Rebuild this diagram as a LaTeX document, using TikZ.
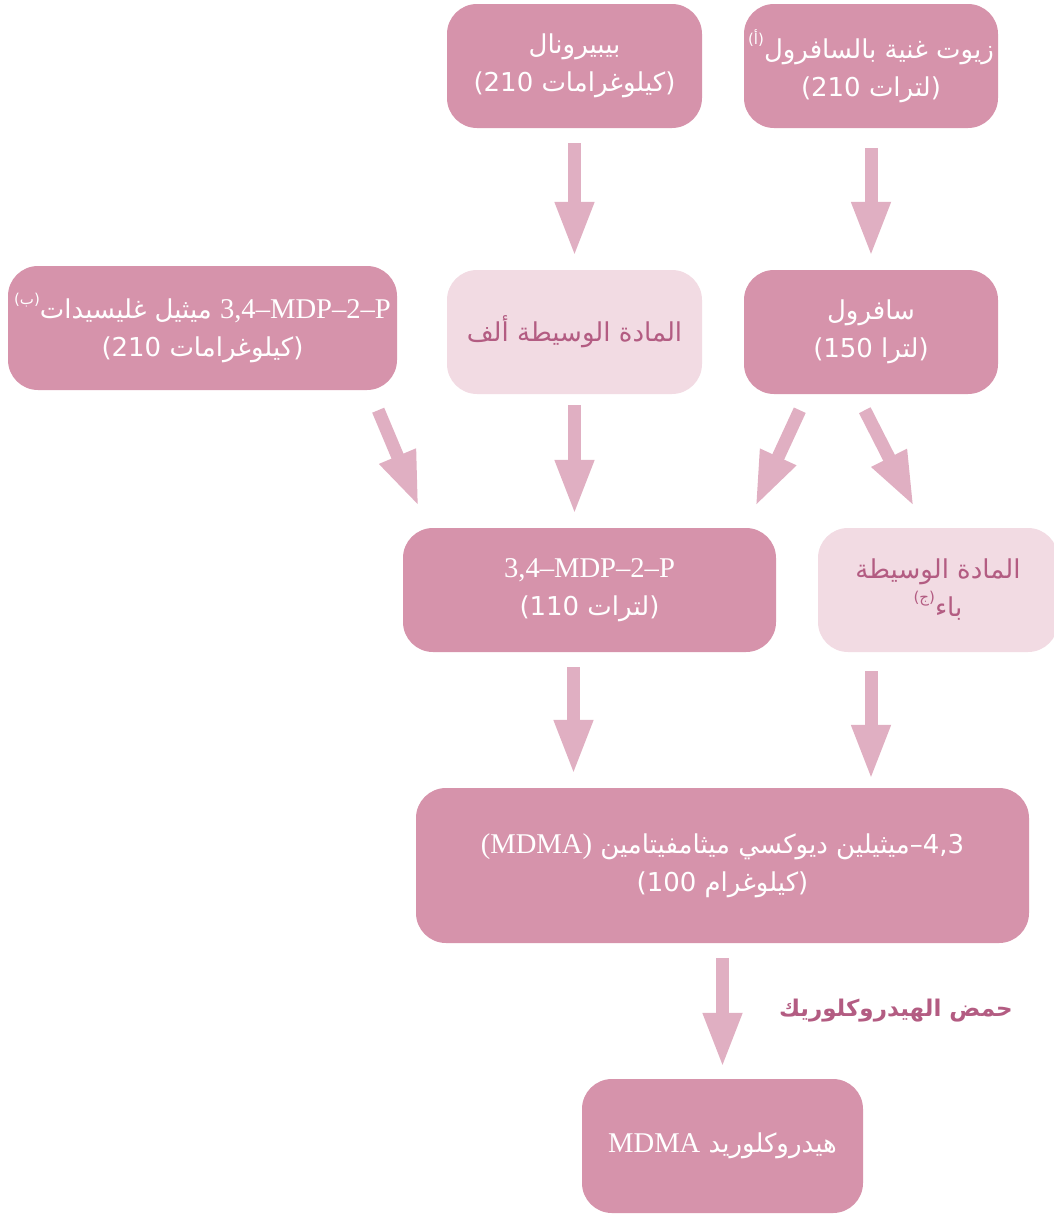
\documentclass[tikz,border=0pt]{standalone}
\usepackage{fontspec}
\setmainfont{DejaVu Sans}[Script=Arabic]
\newfontfamily\latinfont{Liberation Serif}[Scale=1.10]
\newfontfamily\numfont{DejaVu Sans}
\TeXXeTstate=1
\usepackage{tikz}
\usetikzlibrary{
    arrows.meta,
    positioning,
    calc,
}

\definecolor{stagepink}{HTML}{D693AB}
\definecolor{lightpink}{HTML}{F2DBE3}
\definecolor{darkpink}{HTML}{B35C82}
\definecolor{arrowpink}{HTML}{E0AFC2}

% raised note mark, e.g. (a)
\newcommand{\notemark}[1]{\raisebox{0.55em}{\fontsize{15}{15}\selectfont{\numfont(}#1{\numfont)}}}
\newcommand{\ar}[1]{\beginR #1\endR}
% amount line: (number unit)
\newcommand{\amount}[2]{{\numfont(#1 }\ar{#2}{\numfont)}}

\begin{document}
\begin{tikzpicture}[
    x=1pt, y=-1pt,
    stage/.style={draw=none, fill=stagepink, rounded corners=30pt, text=white,
                align=center, minimum height=124pt, inner sep=0pt,
                font=\fontsize{26}{38}\selectfont},
    interm/.style={stage, fill=lightpink, text=darkpink},
    flow/.style={draw=arrowpink, line width=13pt,
                -{Triangle[width=36pt,length=55pt]},
                shorten <=15pt, shorten >=13pt},
    reagent/.style={text=darkpink, inner sep=0pt,
                font=\fontsize{23}{30}\selectfont\bfseries},
]
\useasboundingbox (0,0) rectangle (1054,1216);

\node[stage, minimum width=255pt] at (574.5,66) (piper) {بيبيرونال\\\amount{210}{كيلوغرامات}};
\node[stage, minimum width=254pt] at (871,66) (oils) {\notemark{أ}\ar{زيوت غنية بالسافرول}\\\amount{210}{لترات}};

\node[stage, minimum width=389pt] at (202.5,328) (glyc) {\notemark{ب}\ar{ميثيل غليسيدات} {\latinfont 3,4–MDP–2–P}\\\amount{210}{كيلوغرامات}};
\node[interm, minimum width=255pt] at (574.5,332) (interA) {\ar{المادة الوسيطة ألف}};
\node[stage, minimum width=254pt] at (871,332) (safrole) {سافرول\\\amount{150}{لترا}};

\node[stage, minimum width=373pt] at (589.5,590) (mdp) {{\latinfont 3,4–MDP–2–P}\\\amount{110}{لترات}};
\node[interm, minimum width=240pt] at (938,590) (interB) {\ar{المادة الوسيطة}\\\notemark{ج}باء};

\node[stage, minimum width=613pt, minimum height=155pt] at (722.5,865.5) (mdma) {{\latinfont(MDMA)} \ar{ميثيلين ديوكسي ميثامفيتامين}{\numfont–4,3}\\\amount{100}{كيلوغرام}};

\node[stage, minimum width=281pt, minimum height=134pt] at (722.5,1146) (hcl) {{\latinfont MDMA} هيدروكلوريد};

\draw[flow] (piper) -- (interA);
\draw[flow, shorten <=20pt] (oils) -- (safrole);

\draw[flow, shorten <=0pt, shorten >=0pt] ([shift={(-19,20)}]glyc.south east) -- ([shift={(16,-21)}]mdp.north west);
\draw[flow, shorten <=11pt] (interA.south) -- (interA.south |- mdp.north);
\draw[flow, shorten <=0pt, shorten >=0pt] ([shift={(56,16)}]safrole.south west) -- ([shift={(-21,-21)}]mdp.north east);
\draw[flow, shorten <=0pt, shorten >=0pt] ([shift={(121,16)}]safrole.south west) -- ([shift={(-24,-21)}]interB.north);

\draw[flow] ([xshift=-16pt]mdp.south) -- ([xshift=-16pt]mdp.south |- mdma.north);
\draw[flow, shorten <=19pt, shorten >=8pt] ([xshift=-67pt]interB.south) -- ([xshift=-67pt]interB.south |- mdma.north);

\draw[flow, shorten >=11pt] (mdma) -- node[reagent, anchor=west, xshift=50pt] {\ar{حمض الهيدروكلوريك}} (hcl);

\end{tikzpicture}
\end{document}
